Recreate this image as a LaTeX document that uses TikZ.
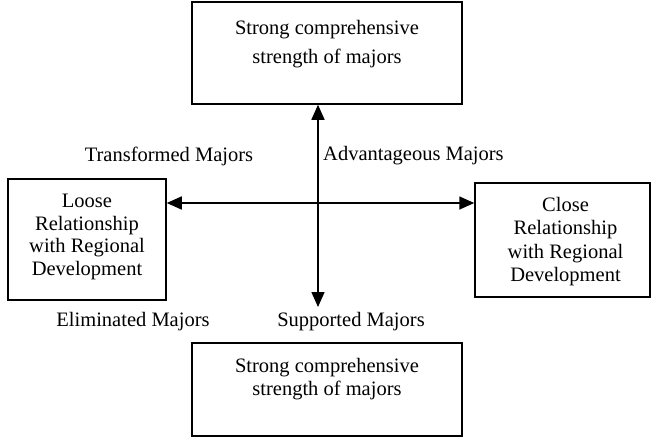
\documentclass[tikz,border=0pt]{standalone}
\usepackage{fontspec}
\setmainfont{Liberation Serif}
\usetikzlibrary{positioning,arrows.meta}

\begin{document}
\begin{tikzpicture}[
  x=1pt, y=-1pt,
  box/.style={draw=black,line width=1.5pt,inner sep=0pt},
  boxtext/.style={align=center,inner sep=0pt,font=\fontsize{20.5}{22.8}\selectfont},
  tag/.style={inner sep=0pt,font=\fontsize{20.5}{22.8}\selectfont},
  axis/.style={line width=1.6pt,{Triangle[length=15pt,width=13pt]}-{Triangle[length=15pt,width=13pt]}}
]
  \useasboundingbox (0,0) rectangle (651,437);
  \coordinate (origin) at (318,203);

  \node[box, minimum width=270pt, minimum height=102pt] (strongtop) at (327,53) {};
  \node[boxtext] (strongtoptext) at (327,44) {Strong comprehensive\\[6pt]strength of majors};

  \node[box, minimum width=270pt, minimum height=93pt] (strongbot) at (327,389.5) {};
  \node[boxtext] (strongbottext) at (327,379) {Strong comprehensive\\strength of majors};

  \node[box, minimum width=158pt, minimum height=121pt] (loose) at (87,239.5) {};
  \node[boxtext] (loosetext) at (87,237) {Loose\\Relationship\\with Regional\\Development};

  \node[box, minimum width=175pt, minimum height=114pt] (close) at (562.5,240) {};
  \node[boxtext, font=\fontsize{20.5}{23.3}\selectfont] (closetext) at (565.5,241.5) {Close\\Relationship\\with Regional\\Development};

  \coordinate (vend) at (318,307);
  \draw[axis] (strongtop.south -| origin) -- (vend);
  \draw[axis] (loose.east |- origin) -- (close.west |- origin);

  \node[tag] (transformed) at (169,156) {Transformed Majors};
  \node[tag, anchor=west] (advantageous) at (323,156) {Advantageous Majors};
  \node[tag] (eliminated) at (133,322) {Eliminated Majors};
  \node[tag] (supported) at (351,322) {Supported Majors};
\end{tikzpicture}
\end{document}
